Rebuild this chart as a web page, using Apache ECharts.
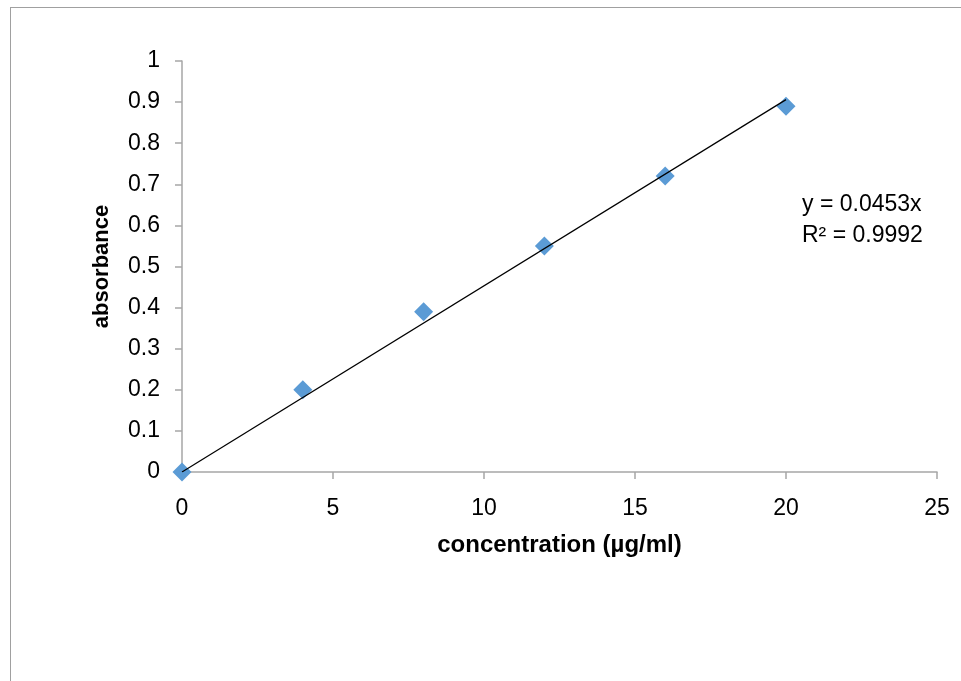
<!DOCTYPE html>
<html>
<head>
<meta charset="utf-8">
<script src="https://cdn.jsdelivr.net/npm/echarts@6/dist/echarts.min.js"></script>
<style>
  html, body { margin: 0; padding: 0; background: #fff; overflow: hidden; }
  .frame {
    position: absolute; left: 10px; top: 7px;
    width: 1000px; height: 720px;
    border: 1px solid #A0A0A0;
  }
  #chart { position: absolute; left: 0; top: 0; width: 961px; height: 681px; }
</style>
</head>
<body>
<div class="frame"></div>
<div id="chart"></div>
<script>
// 浓度 (x) 与吸光度 (y)
const concentration = [0, 4, 8, 12, 16, 20];
const absorbance = [0, 0.2, 0.39, 0.55, 0.72, 0.89];
// 趋势线斜率 / R²
const slope = 0.0453;
const rSquared = 0.9992;

const FONT = 'Liberation Sans';

const myChart = echarts.init(document.getElementById('chart'));

const points = concentration.map((x, i) => [x, absorbance[i]]);
const trend = [
  [concentration[0], slope * concentration[0]],
  [concentration[concentration.length - 1], slope * concentration[concentration.length - 1]],
];

myChart.setOption({
  animation: false,
  grid: { left: 182, right: 24, top: 61, bottom: 209 },
  xAxis: {
    type: 'value',
    min: 0,
    max: 25,
    interval: 5,
    name: 'concentration (µg/ml)',
    nameLocation: 'middle',
    nameGap: 61,
    nameTextStyle: { fontFamily: FONT, fontSize: 24, fontWeight: 'bold', color: '#000' },
    axisLine: { lineStyle: { color: '#A6A6A6', width: 1.5 } },
    axisTick: { show: true, length: 7, lineStyle: { color: '#A6A6A6', width: 1.5 } },
    axisLabel: { fontFamily: FONT, fontSize: 23, color: '#000', margin: 25 },
    splitLine: { show: false },
  },
  yAxis: {
    type: 'value',
    min: 0,
    max: 1,
    interval: 0.1,
    name: 'absorbance',
    nameLocation: 'middle',
    nameGap: 69,
    nameTextStyle: { fontFamily: FONT, fontSize: 22, fontWeight: 'bold', color: '#000' },
    axisLine: { show: true, lineStyle: { color: '#A6A6A6', width: 1.5 } },
    axisTick: { show: true, length: 7, lineStyle: { color: '#A6A6A6', width: 1.5 } },
    axisLabel: { fontFamily: FONT, fontSize: 23, color: '#000', margin: 22 },
    splitLine: { show: false },
  },
  series: [
    {
      name: 'data',
      type: 'scatter',
      data: points,
      symbol: 'diamond',
      symbolSize: 19,
      itemStyle: { color: '#5B9BD5', opacity: 1 },
      z: 2,
    },
    {
      name: 'trend',
      type: 'line',
      data: trend,
      symbol: 'none',
      lineStyle: { color: '#000', width: 1.2 },
      z: 3,
    },
  ],
  graphic: [
    {
      type: 'text',
      left: 802,
      top: 189,
      style: {
        text: 'y = ' + slope + 'x\nR² = ' + rSquared,
        fontFamily: FONT,
        fontSize: 23,
        lineHeight: 31,
        fill: '#000',
      },
    },
  ],
});
</script>
</body>
</html>
